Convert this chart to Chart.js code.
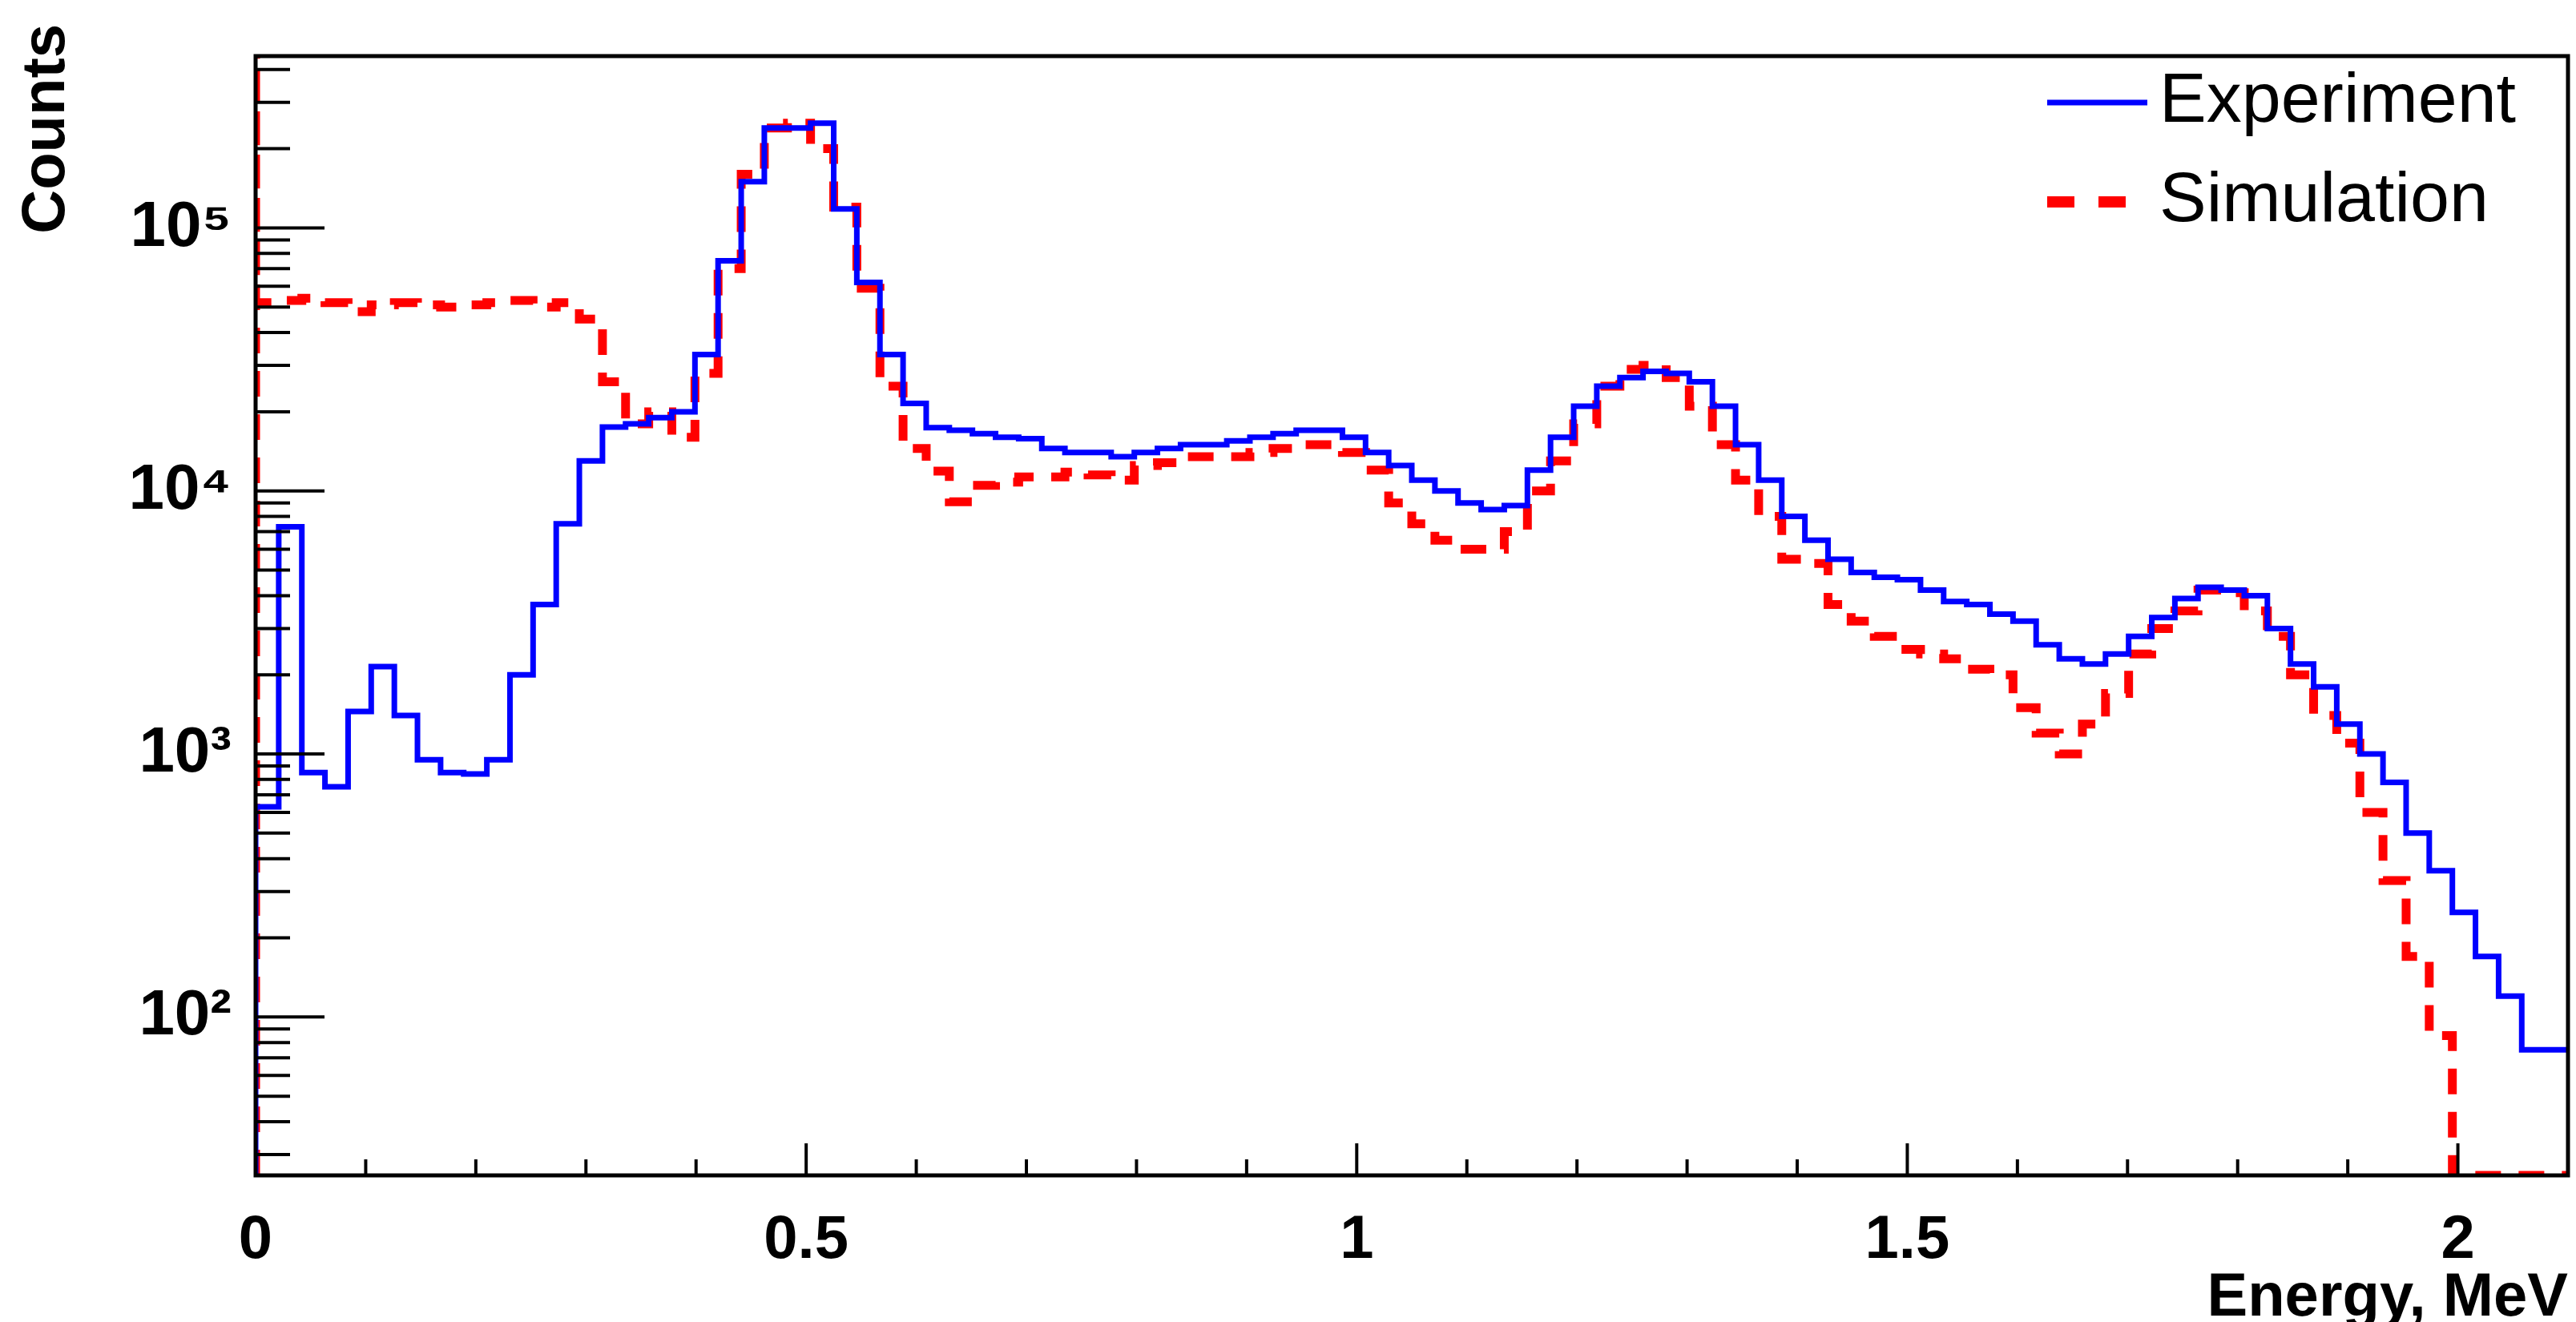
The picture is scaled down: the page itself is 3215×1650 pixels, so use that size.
<!DOCTYPE html>
<html><head><meta charset="utf-8">
<script src="https://cdn.jsdelivr.net/npm/chart.js@4"></script>
<style>html,body{margin:0;padding:0;background:#fff}</style>
</head><body><canvas id="c" width="3215" height="1650" style="width:3215px;height:1650px"></canvas>
<script>
const binWidth = 0.021;
const experiment = [50,630,7300,850,750,1450,2150,1400,950,850,
 840,950,2000,3700,7500,13000,17500,18000,19000,20000,
 33000,75000,150000,240000,240000,250000,118000,62000,33000,21500,
 17400,17000,16500,16000,15800,14500,14000,14000,13500,14000,
 14500,15000,15000,15500,16000,16500,17000,17000,16000,14000,
 12500,11000,10000,9000,8500,8800,12000,16000,21000,25000,
 27000,28500,28000,26000,21000,15000,11000,8000,6500,5500,
 4900,4700,4600,4200,3800,3700,3400,3200,2600,2300,
 2200,2400,2800,3300,3900,4300,4200,4000,3000,2200,
 1800,1300,1000,780,500,360,250,170,120,75];
const simulation = [900000,52000,53000,54000,52000,48000,51000,52000,51000,50000,
 51000,52000,53000,50000,52000,45000,26000,18000,20000,16000,
 28000,70000,160000,240000,250000,200000,120000,59000,25000,14500,
 11900,9100,10500,10800,11300,11300,11800,11500,11000,12500,
 12800,13500,13500,13500,14000,14500,15000,15000,14000,12000,
 9000,7500,6500,6000,6000,7000,10000,13000,18000,25000,
 29000,30000,27000,21000,15000,11000,8000,5500,5300,3700,
 3200,2800,2500,2400,2300,2100,2000,1500,1200,1000,
 1300,1700,2400,3000,3500,4200,4100,3500,2800,2000,
 1400,1100,600,330,170,85,25,25,25,25];
const xTickLabels = ["0","0.5","1","1.5","2"];
const yTickLabels = {100:"10\u00B2",1000:"10\u00B3",10000:"10\u2074",100000:"10\u2075"};
const seriesNames = ["Experiment","Simulation"];
const X_MAX = 2.1, Y_MIN = 25, Y_MAX = 450000;

function toSteps(arr){
  const pts=[{x:0,y:Y_MIN}];
  arr.forEach((v,i)=>pts.push({x:+(i*binWidth).toFixed(4),y:v}));
  pts.push({x:X_MAX,y:arr[arr.length-1]});
  return pts;
}
const F = '"Liberation Sans", Arial, sans-serif';

const framePlugin = {
  id:'frame',
  afterDatasetsDraw(chart){
    const {ctx, chartArea:a, scales:{x,y}} = chart;
    ctx.save();
    ctx.strokeStyle='#000'; ctx.lineWidth=5;
    ctx.strokeRect(a.left,a.top,a.right-a.left,a.bottom-a.top);
    ctx.lineWidth=4;
    for(let e=1;e<=5;e++){
      for(let m=1;m<=9;m++){
        const v=m*Math.pow(10,e);
        if(v<Y_MIN||v>Y_MAX) continue;
        const py=y.getPixelForValue(v);
        const len = m===1?86:43;
        ctx.beginPath();ctx.moveTo(a.left,py);ctx.lineTo(a.left+len,py);ctx.stroke();
      }
    }
    for(let k=0;k<=21;k++){
      const v=k*0.1;
      const px=x.getPixelForValue(v);
      const len = (k%5===0)?40:20;
      ctx.beginPath();ctx.moveTo(px,a.bottom);ctx.lineTo(px,a.bottom-len);ctx.stroke();
    }
    const lx=2555, ly1=128, ly2=252;
    ctx.lineWidth=7; ctx.strokeStyle='#0000ff';
    ctx.beginPath();ctx.moveTo(lx,ly1);ctx.lineTo(lx+125,ly1);ctx.stroke();
    ctx.lineWidth=14; ctx.strokeStyle='#ff0000'; ctx.setLineDash([34,30]);
    ctx.beginPath();ctx.moveTo(lx,ly2);ctx.lineTo(lx+120,ly2);ctx.stroke();
    ctx.setLineDash([]);
    ctx.fillStyle='#000'; ctx.font='88px '+F; ctx.textBaseline='middle'; ctx.textAlign='left';
    ctx.fillText(seriesNames[0],lx+140,ly1);
    ctx.fillText(seriesNames[1],lx+140,ly2);
    ctx.font='bold 76px '+F;
    ctx.textAlign='right'; ctx.textBaseline='alphabetic';
    ctx.fillText('Energy, MeV',a.right,1642);
    ctx.save(); ctx.translate(80,30); ctx.rotate(-Math.PI/2);
    ctx.textAlign='right'; ctx.fillText('Counts',0,0); ctx.restore();
    ctx.restore();
  }
};

new Chart(document.getElementById('c'),{
  type:'line',
  data:{datasets:[
    {label:seriesNames[0],data:toSteps(experiment),stepped:'after',borderColor:'#0000ff',borderWidth:7,pointRadius:0,fill:false},
    {label:seriesNames[1],data:toSteps(simulation),stepped:'after',borderColor:'#ff0000',borderWidth:11,borderDash:[32,22],pointRadius:0,fill:false}
  ]},
  options:{
    responsive:false,animation:false,devicePixelRatio:1,
    layout:{padding:{top:29,right:10,left:0,bottom:0}},
    plugins:{legend:{display:false},tooltip:{enabled:false}},
    scales:{
      x:{type:'linear',min:0,max:X_MAX,
        afterBuildTicks(s){s.ticks=[0,0.5,1,1.5,2].map(v=>({value:v}));},
        afterFit(s){s.height=183;},
        grid:{display:false},border:{display:false},
        ticks:{padding:28,maxRotation:0,autoSkip:false,color:'#000',font:{family:F,size:76,weight:'bold'},
          callback:(v,i)=>xTickLabels[i]}},
      y:{type:'logarithmic',min:Y_MIN,max:Y_MAX,
        afterBuildTicks(s){s.ticks=[100,1000,10000,100000].map(v=>({value:v}));},
        afterFit(s){s.width=319;},
        grid:{display:false},border:{display:false},
        ticks:{padding:22,autoSkip:false,color:'#000',font:{family:F,size:80,weight:'bold'},
          callback:(v)=>yTickLabels[v]||''}}
    }
  },
  plugins:[framePlugin]
});
</script>
</body></html>
